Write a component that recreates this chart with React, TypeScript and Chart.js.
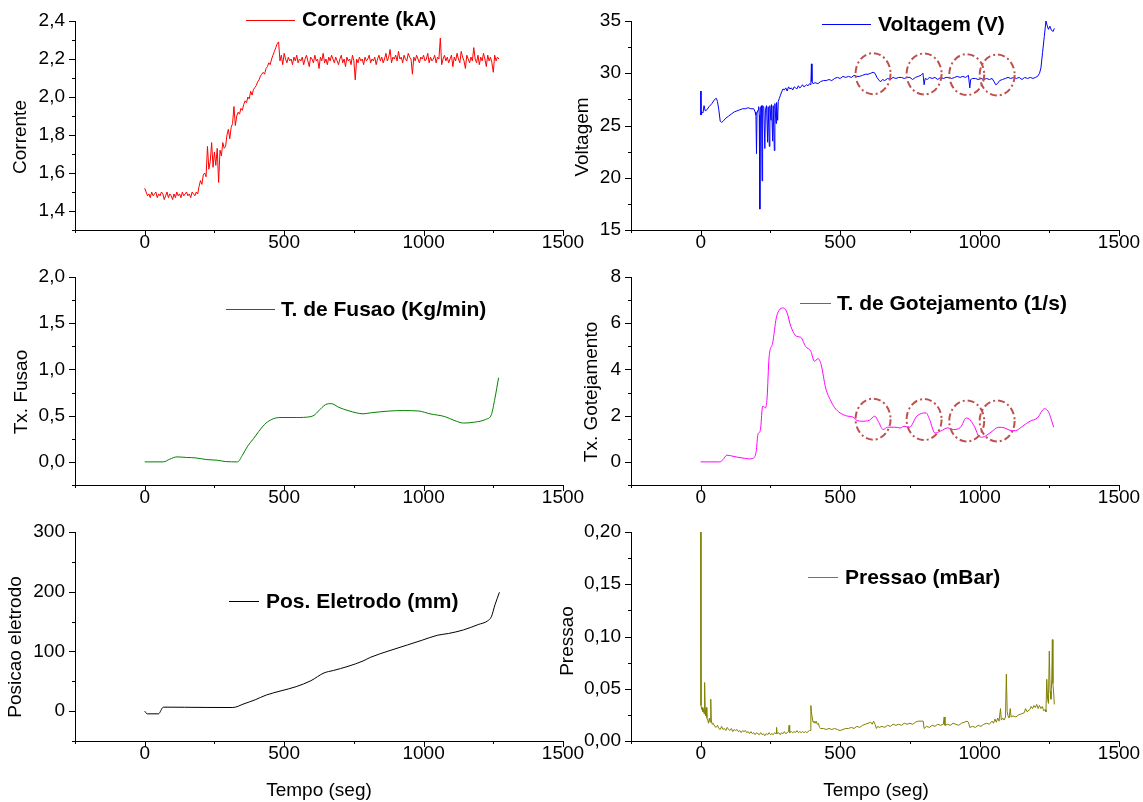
import React, { useEffect, useRef } from 'react';
import { Chart, registerables } from 'chart.js';

Chart.register(...registerables);

const W = 1143;
const H = 802;
const FONT = '"Liberation Sans", Arial, Helvetica, sans-serif';

// ---------- DATA ----------
const tempoTicks = [-250, 1500];

// Corrente (kA), sampled every 5 s from t = 0
const correnteValores = [
  1.52, 1.50, 1.48, 1.49, 1.47, 1.50, 1.48, 1.49, 1.50, 1.47, 1.49, 1.48, 1.50, 1.49, 1.46, 1.48, 1.50, 1.47, 1.49, 1.48,
  1.46, 1.49, 1.47, 1.50, 1.48, 1.49, 1.47, 1.50, 1.48, 1.49, 1.50, 1.48, 1.49, 1.47, 1.50, 1.49, 1.48, 1.50,
  1.49, 1.53, 1.56, 1.54, 1.59, 1.60, 1.58, 1.74, 1.62, 1.66, 1.76, 1.63, 1.71, 1.64, 1.73, 1.55, 1.72, 1.69, 1.76, 1.73,
  1.74, 1.80, 1.83, 1.78, 1.84, 1.86, 1.95, 1.85, 1.90, 1.92, 1.91, 1.94, 1.93, 1.96, 1.98, 1.97, 2.00, 1.99, 2.03, 2.01,
  2.04, 2.05, 2.06, 2.08, 2.09, 2.11, 2.12, 2.13, 2.12, 2.15, 2.16, 2.18, 2.17, 2.20, 2.22, 2.24, 2.26, 2.28, 2.29,
  2.19, 2.22, 2.17, 2.23, 2.20, 2.18, 2.21, 2.19, 2.20, 2.17, 2.21, 2.19, 2.22, 2.18, 2.20, 2.19, 2.21, 2.17, 2.20, 2.22,
  2.19, 2.16, 2.21, 2.20, 2.18, 2.22, 2.19, 2.20, 2.15, 2.21, 2.19, 2.23, 2.18, 2.20, 2.17, 2.21, 2.19, 2.22, 2.20, 2.18,
  2.21, 2.19, 2.17, 2.20, 2.22, 2.18, 2.20, 2.16, 2.21, 2.19, 2.20, 2.17, 2.22, 2.19, 2.09, 2.20, 2.18, 2.21, 2.19, 2.20,
  2.17, 2.21, 2.19, 2.20, 2.22, 2.18, 2.20, 2.19, 2.21, 2.17, 2.20, 2.22, 2.19, 2.21, 2.18, 2.20, 2.23, 2.19, 2.21, 2.25,
  2.18, 2.21, 2.20, 2.22, 2.19, 2.24, 2.20, 2.21, 2.18, 2.22, 2.20, 2.19, 2.23, 2.21, 2.20, 2.12, 2.21, 2.19, 2.22, 2.20,
  2.18, 2.21, 2.20, 2.22, 2.19, 2.20, 2.23, 2.18, 2.21, 2.19, 2.20, 2.22, 2.18, 2.21, 2.20, 2.31, 2.17, 2.20, 2.22, 2.19,
  2.21, 2.18, 2.20, 2.22, 2.16, 2.21, 2.19, 2.23, 2.20, 2.18, 2.24, 2.21, 2.19, 2.15, 2.22, 2.20, 2.18, 2.21, 2.19, 2.26,
  2.20, 2.18, 2.22, 2.17, 2.21, 2.19, 2.23, 2.20, 2.16, 2.22, 2.19, 2.21, 2.18, 2.13, 2.22, 2.19, 2.21, 2.20,
];
const correnteTempo = correnteValores.map((_, i) => i * 5);

// Voltagem (V): [tempo, valor]
const voltagem: [number, number][] = [
  [0, 28.3], [1, 26.0], [3, 26.3], [8, 26.2], [12, 26.9], [16, 26.4], [22, 26.5], [30, 26.8], [40, 27.1], [50, 27.5],
  [56, 27.6], [60, 27.3], [65, 26.5], [70, 25.4], [75, 25.3], [80, 25.4], [90, 25.7], [100, 25.9], [110, 26.1], [120, 26.3],
  [130, 26.4], [140, 26.5], [150, 26.6], [160, 26.6], [170, 26.7], [180, 26.6], [190, 26.6], [195, 26.3], [198, 26.0], [200, 22.3],
  [202, 26.2], [206, 26.5], [208, 26.8], [210, 26.0], [212, 17.0], [214, 26.7], [218, 26.9], [220, 19.7], [222, 26.9], [226, 26.8],
  [230, 22.8], [232, 26.5], [236, 26.9], [240, 23.4], [242, 26.8], [246, 23.0], [248, 26.9], [252, 25.5], [254, 27.0], [258, 23.5],
  [260, 26.9], [264, 22.6], [266, 27.1], [270, 25.2], [272, 27.2], [276, 25.5], [278, 27.3], [282, 27.6], [286, 27.9], [290, 28.2],
  [295, 28.5], [300, 28.4], [305, 28.6], [310, 28.3], [315, 28.7], [320, 28.5], [325, 28.6], [330, 28.4], [335, 28.7], [340, 28.6],
  [345, 28.5], [350, 28.8], [355, 28.6], [360, 28.7], [365, 28.9], [370, 28.7], [375, 28.8], [380, 28.9], [385, 28.8], [390, 29.0],
  [395, 28.9], [397, 30.9], [399, 29.2], [403, 29.0], [410, 29.1], [420, 29.0], [430, 29.2], [440, 29.3], [450, 29.3], [460, 29.4],
  [470, 29.3], [480, 29.5], [490, 29.6], [500, 29.5], [510, 29.7], [520, 29.6], [530, 29.7], [540, 29.6], [550, 29.8], [560, 29.7],
  [570, 29.7], [580, 29.8], [590, 29.9], [600, 29.9], [610, 30.0], [618, 30.1], [625, 30.0], [632, 29.6], [640, 29.3], [646, 29.2],
  [652, 29.4], [660, 29.3], [670, 29.5], [680, 29.4], [690, 29.6], [700, 29.5], [710, 29.6], [720, 29.6], [730, 29.5], [740, 29.6],
  [750, 29.6], [760, 29.4], [770, 29.6], [780, 29.7], [790, 29.8], [797, 30.0], [801, 28.9], [805, 29.5], [812, 29.4], [820, 29.6],
  [830, 29.5], [840, 29.6], [850, 29.4], [860, 29.6], [870, 29.5], [880, 29.6], [890, 29.6], [900, 29.5], [910, 29.6], [920, 29.7],
  [930, 29.6], [940, 29.7], [950, 29.6], [960, 29.8], [965, 28.6], [968, 29.4], [975, 29.5], [985, 29.5], [995, 29.4], [1005, 29.5],
  [1015, 29.4], [1025, 29.5], [1035, 29.4], [1045, 29.5], [1052, 29.2], [1058, 28.9], [1064, 29.0], [1072, 29.3], [1082, 29.4], [1092, 29.5],
  [1102, 29.6], [1112, 29.5], [1122, 29.6], [1132, 29.5], [1142, 29.6], [1152, 29.4], [1162, 29.6], [1172, 29.5], [1182, 29.6], [1192, 29.5],
  [1200, 29.6], [1208, 29.7], [1215, 30.0], [1220, 30.5], [1226, 32.0], [1232, 33.5], [1238, 35.0], [1242, 34.6], [1247, 34.2], [1252, 34.5],
  [1258, 34.1], [1264, 34.0], [1268, 34.3], [1270, 34.3],
];

// Taxa de fusao (Kg/min)
const fusao: [number, number][] = [
  [0, 0], [67, 0], [90, 0.03], [116, 0.054], [150, 0.048], [183, 0.043], [223, 0.025], [260, 0.018], [289, 0.004], [333, 0.0],
  [350, 0.07], [369, 0.17], [390, 0.25], [409, 0.33], [435, 0.42], [456, 0.46], [470, 0.475], [489, 0.48], [543, 0.48], [596, 0.49],
  [610, 0.51], [623, 0.55], [649, 0.62], [669, 0.63], [696, 0.59], [729, 0.555], [760, 0.53], [783, 0.52], [809, 0.53], [876, 0.55],
  [929, 0.555], [983, 0.55], [1023, 0.52], [1076, 0.49], [1109, 0.45], [1143, 0.42], [1183, 0.43], [1223, 0.46], [1243, 0.51], [1256, 0.69],
  [1269, 0.91],
];

// Taxa de gotejamento (1/s)
const gotejamento: [number, number][] = [
  [0, 0], [68, 0], [80, 0.1], [94, 0.29], [110, 0.26], [133, 0.2], [160, 0.15], [173, 0.13], [186, 0.15], [199, 0.46],
  [205, 1.18], [212, 1.3], [215, 1.47], [222, 2.4], [228, 2.38], [232, 2.33], [238, 2.77], [245, 4.5], [258, 5.15], [271, 6.23],
  [280, 6.54], [297, 6.66], [310, 6.44], [323, 5.87], [343, 5.44], [359, 5.39], [376, 5.0], [395, 4.78], [408, 4.35], [421, 4.47],
  [432, 4.2], [448, 3.2], [467, 2.63], [480, 2.35], [500, 2.12], [526, 1.98], [546, 1.94], [559, 1.8], [579, 1.76], [605, 1.8],
  [624, 1.98], [637, 1.75], [654, 1.4], [670, 1.5], [696, 1.5], [716, 1.47], [729, 1.54], [749, 1.5], [775, 1.98], [808, 2.12],
  [821, 1.83], [840, 1.25], [860, 1.33], [886, 1.47], [906, 1.4], [932, 1.5], [952, 1.9], [965, 1.83], [984, 1.47], [997, 1.11],
  [1010, 1.07], [1037, 1.25], [1069, 1.5], [1089, 1.47], [1115, 1.35], [1128, 1.35], [1154, 1.54], [1181, 1.76], [1207, 1.9], [1233, 2.3],
  [1246, 2.19], [1266, 1.5],
];

// Posicao eletrodo (mm)
const posicao: [number, number][] = [
  [0, 0], [9, -4.5], [49, -4.5], [67, 6.7], [143, 6.5], [220, 6.2], [316, 6.1], [356, 12.3], [396, 19], [436, 27],
  [489, 34], [543, 41], [596, 51], [643, 64], [676, 68], [729, 75], [783, 84], [809, 90], [876, 101], [943, 111],
  [996, 119], [1049, 127], [1089, 130], [1143, 136], [1196, 145], [1229, 151], [1243, 158], [1256, 178], [1272, 199],
];

// Pressao (mBar)
const pressao: [number, number][] = [
  [0, 0.20], [1, 0.034], [4, 0.03], [6, 0.032], [8, 0.028], [10, 0.03], [12, 0.026], [14, 0.056], [16, 0.03], [18, 0.024],
  [20, 0.032], [22, 0.022], [25, 0.02], [28, 0.017], [31, 0.022], [34, 0.018], [36, 0.04], [38, 0.02], [41, 0.016], [45, 0.017],
  [50, 0.014], [55, 0.013], [60, 0.015], [65, 0.012], [70, 0.011], [75, 0.014], [80, 0.011], [85, 0.012], [90, 0.010], [95, 0.013],
  [100, 0.011], [105, 0.010], [110, 0.012], [115, 0.009], [120, 0.011], [125, 0.010], [130, 0.011], [135, 0.009], [140, 0.010], [145, 0.008],
  [150, 0.010], [155, 0.009], [160, 0.010], [165, 0.008], [170, 0.009], [175, 0.007], [180, 0.009], [185, 0.007], [190, 0.008], [195, 0.006],
  [200, 0.008], [205, 0.007], [210, 0.006], [215, 0.008], [220, 0.006], [225, 0.007], [230, 0.005], [235, 0.007], [240, 0.006], [245, 0.008],
  [250, 0.006], [255, 0.007], [260, 0.006], [265, 0.008], [270, 0.007], [272, 0.013], [274, 0.007], [280, 0.008], [285, 0.006], [290, 0.008],
  [295, 0.007], [300, 0.009], [305, 0.007], [310, 0.008], [315, 0.009], [317, 0.015], [319, 0.008], [325, 0.009], [330, 0.008], [335, 0.009],
  [340, 0.008], [345, 0.010], [350, 0.008], [355, 0.009], [360, 0.008], [365, 0.009], [370, 0.008], [375, 0.009], [380, 0.008], [385, 0.009],
  [390, 0.010], [393, 0.010], [395, 0.034], [397, 0.028], [400, 0.022], [403, 0.018], [406, 0.019], [410, 0.017], [414, 0.019], [418, 0.016],
  [422, 0.017], [426, 0.013], [430, 0.012], [440, 0.012], [450, 0.011], [460, 0.012], [470, 0.011], [480, 0.012], [490, 0.011], [500, 0.010],
  [510, 0.011], [520, 0.012], [530, 0.012], [540, 0.013], [550, 0.012], [560, 0.014], [570, 0.013], [580, 0.015], [590, 0.016], [600, 0.017],
  [610, 0.018], [615, 0.016], [620, 0.019], [625, 0.016], [630, 0.012], [635, 0.014], [640, 0.013], [650, 0.014], [660, 0.013], [670, 0.015],
  [680, 0.014], [690, 0.016], [700, 0.015], [710, 0.016], [720, 0.015], [730, 0.017], [740, 0.016], [750, 0.017], [760, 0.016], [770, 0.018],
  [780, 0.019], [790, 0.019], [798, 0.019], [801, 0.012], [810, 0.014], [820, 0.013], [830, 0.015], [840, 0.014], [850, 0.016], [860, 0.015],
  [870, 0.016], [873, 0.023], [876, 0.015], [885, 0.016], [895, 0.015], [905, 0.017], [915, 0.016], [925, 0.015], [935, 0.017], [945, 0.018],
  [955, 0.019], [960, 0.018], [965, 0.013], [975, 0.014], [985, 0.013], [995, 0.015], [1005, 0.014], [1015, 0.016], [1025, 0.017], [1035, 0.016],
  [1045, 0.019], [1050, 0.017], [1055, 0.021], [1060, 0.018], [1065, 0.022], [1070, 0.019], [1075, 0.031], [1078, 0.020], [1083, 0.022], [1088, 0.020],
  [1093, 0.023], [1096, 0.064], [1099, 0.028], [1102, 0.024], [1106, 0.022], [1110, 0.031], [1113, 0.023], [1120, 0.024], [1130, 0.023], [1140, 0.025],
  [1150, 0.026], [1160, 0.027], [1165, 0.031], [1170, 0.028], [1180, 0.030], [1185, 0.033], [1190, 0.031], [1195, 0.034], [1200, 0.032], [1205, 0.035],
  [1210, 0.031], [1215, 0.034], [1220, 0.031], [1225, 0.033], [1230, 0.029], [1235, 0.030], [1238, 0.028], [1241, 0.059], [1244, 0.040], [1247, 0.036],
  [1250, 0.086], [1253, 0.048], [1256, 0.040], [1259, 0.060], [1261, 0.097], [1263, 0.055], [1266, 0.045], [1268, 0.035],
];

// Dash-dot circles (centres in data units)
const circulosVoltagem: [number, number][] = [[618, 29.96], [801, 29.93], [954, 29.87], [1063, 29.83]];
const circulosGotejamento: [number, number][] = [[618, 1.85], [801, 1.83], [954, 1.77], [1063, 1.77]];

// ---------- LAYOUT / STYLE ----------
type Panel = {
  points: { x: number; y: number }[];
  color: string;
  smooth: boolean;
  plot: { l: number; r: number; t: number; b: number };
  y: { min: number; max: number; step: number; major: (v: number) => boolean; fmt: (v: number) => string };
  yTitle: { text: string; x: number; y: number };
  xTitle?: { text: string; x: number; y: number };
  legend: { text: string; x1: number; x2: number; y: number; tx: number };
  circles?: [number, number][];
};

const toPts = (arr: [number, number][]) => arr.map(([x, y]) => ({ x, y }));
const comma = (d: number) => (v: number) => v.toFixed(d).replace('.', ',');
const L = { l: 75, r: 563 };
const R = { l: 631, r: 1119 };
const ROW1 = { t: 21, b: 230 };
const ROW2 = { t: 277, b: 485 };
const ROW3 = { t: 532, b: 741 };

const panels: Panel[] = [
  {
    points: correnteTempo.map((t, i) => ({ x: t, y: correnteValores[i] })),
    color: '#ff0000', smooth: false,
    plot: { ...L, ...ROW1 },
    y: { min: 1.3, max: 2.4, step: 0.1, major: (v) => Math.abs(Math.round(v * 10)) % 2 === 0, fmt: comma(1) },
    yTitle: { text: 'Corrente', x: 21, y: 137 },
    legend: { text: 'Corrente (kA)', x1: 246, x2: 295, y: 19.5, tx: 302 },
  },
  {
    points: toPts(voltagem),
    color: '#0000ff', smooth: false,
    plot: { ...R, ...ROW1 },
    y: { min: 15, max: 35, step: 2.5, major: (v) => Math.abs(v % 5) < 1e-6, fmt: (v) => String(v) },
    yTitle: { text: 'Voltagem', x: 583, y: 137 },
    legend: { text: 'Voltagem (V)', x1: 822, x2: 871, y: 24, tx: 878 },
    circles: circulosVoltagem,
  },
  {
    points: toPts(fusao),
    color: '#008000', smooth: true,
    plot: { ...L, ...ROW2 },
    y: { min: -0.25, max: 2.0, step: 0.25, major: (v) => Math.abs(Math.round(v * 4)) % 2 === 0, fmt: comma(1) },
    yTitle: { text: 'Tx. Fusao', x: 22, y: 392 },
    legend: { text: 'T. de Fusao (Kg/min)', x1: 226, x2: 275, y: 309, tx: 281 },
  },
  {
    points: toPts(gotejamento),
    color: '#ff00ff', smooth: true,
    plot: { ...R, ...ROW2 },
    y: { min: -1, max: 8, step: 1, major: (v) => Math.abs(Math.round(v)) % 2 === 0, fmt: (v) => String(v) },
    yTitle: { text: 'Tx. Gotejamento', x: 592, y: 392 },
    legend: { text: 'T. de Gotejamento (1/s)', x1: 800, x2: 831, y: 303, tx: 837 },
    circles: circulosGotejamento,
  },
  {
    points: toPts(posicao),
    color: '#000000', smooth: true,
    plot: { ...L, ...ROW3 },
    y: { min: -50, max: 300, step: 50, major: (v) => Math.abs(Math.round(v)) % 100 === 0, fmt: (v) => String(v) },
    yTitle: { text: 'Posicao eletrodo', x: 16, y: 647 },
    xTitle: { text: 'Tempo (seg)', x: 319, y: 791 },
    legend: { text: 'Pos. Eletrodo (mm)', x1: 229, x2: 259, y: 601, tx: 266 },
  },
  {
    points: toPts(pressao),
    color: '#808000', smooth: false,
    plot: { ...R, ...ROW3 },
    y: { min: 0, max: 0.2, step: 0.025, major: (v) => Math.abs(Math.round(v * 40)) % 2 === 0, fmt: comma(2) },
    yTitle: { text: 'Pressao', x: 568, y: 641 },
    xTitle: { text: 'Tempo (seg)', x: 876, y: 791 },
    legend: { text: 'Pressao (mBar)', x1: 808, x2: 838, y: 577, tx: 845 },
  },
];

const Y_AXIS_W = 60;
const X_AXIS_H = 40;

function makeDecor(p: Panel) {
  return {
    id: 'decor',
    afterDraw(chart: any) {
      const ctx: CanvasRenderingContext2D = chart.ctx;
      const xs = chart.scales.x;
      const ys = chart.scales.y;
      const a = chart.chartArea;
      ctx.save();
      ctx.strokeStyle = '#000';
      ctx.lineWidth = 1;
      for (const t of xs.ticks) {
        const px = Math.round(xs.getPixelForValue(t.value)) + 0.5;
        const major = Math.abs(t.value % 500) < 1e-6;
        ctx.beginPath();
        ctx.moveTo(px, Math.round(a.bottom));
        ctx.lineTo(px, Math.round(a.bottom) + (major ? 6 : 3));
        ctx.stroke();
      }
      for (const t of ys.ticks) {
        const py = Math.round(ys.getPixelForValue(t.value)) + 0.5;
        const major = p.y.major(t.value);
        ctx.beginPath();
        ctx.moveTo(Math.round(a.left) - (major ? 6 : 3), py);
        ctx.lineTo(Math.round(a.left), py);
        ctx.stroke();
      }
      // circles
      if (p.circles) {
        ctx.strokeStyle = '#c0504d';
        ctx.lineWidth = 2;
        ctx.setLineDash([7, 3, 2, 3]);
        for (const [cx, cy] of p.circles) {
          ctx.beginPath();
          ctx.ellipse(xs.getPixelForValue(cx), ys.getPixelForValue(cy), 17.5, 20.5, 0, 0, Math.PI * 2);
          ctx.stroke();
        }
        ctx.setLineDash([]);
      }
      // legend
      ctx.strokeStyle = p.color;
      ctx.lineWidth = 1;
      ctx.beginPath();
      ctx.moveTo(p.legend.x1, Math.round(p.legend.y) + 0.5);
      ctx.lineTo(p.legend.x2, Math.round(p.legend.y) + 0.5);
      ctx.stroke();
      ctx.fillStyle = '#000';
      ctx.font = `bold 21px ${FONT}`;
      ctx.textAlign = 'left';
      ctx.textBaseline = 'middle';
      ctx.fillText(p.legend.text, p.legend.tx, p.legend.y + 1);
      // axis titles
      ctx.font = `19px ${FONT}`;
      ctx.textAlign = 'center';
      ctx.save();
      ctx.translate(p.yTitle.x, p.yTitle.y);
      ctx.rotate(-Math.PI / 2);
      ctx.fillText(p.yTitle.text, 0, 0);
      ctx.restore();
      if (p.xTitle) ctx.fillText(p.xTitle.text, p.xTitle.x, p.xTitle.y);
      ctx.restore();
    },
  };
}

function buildChart(canvas: HTMLCanvasElement, p: Panel) {
  return new Chart(canvas, {
    type: 'line',
    data: {
      datasets: [
        {
          data: p.points,
          borderColor: p.color,
          borderWidth: 1,
          pointRadius: 0,
          fill: false,
          cubicInterpolationMode: p.smooth ? 'monotone' : 'default',
          tension: 0,
        },
      ],
    },
    options: {
      animation: false,
      responsive: false,
      devicePixelRatio: 1,
      events: [],
      layout: {
        padding: {
          left: p.plot.l - Y_AXIS_W,
          right: W - p.plot.r,
          top: p.plot.t,
          bottom: H - p.plot.b - X_AXIS_H,
        },
      },
      plugins: { legend: { display: false }, tooltip: { enabled: false }, title: { display: false } },
      scales: {
        x: {
          type: 'linear',
          min: tempoTicks[0],
          max: tempoTicks[1],
          afterFit: (s: any) => { s.height = X_AXIS_H; },
          grid: { display: true, drawOnChartArea: false, drawTicks: true, tickLength: 6, tickColor: 'rgba(0,0,0,0)' },
          border: { display: true, color: '#000', width: 1 },
          ticks: {
            stepSize: 250,
            autoSkip: false,
            maxRotation: 0,
            padding: 0,
            color: '#000',
            font: { family: FONT, size: 19, lineHeight: 0.74 },
            callback: (v: any) => (Math.abs(Number(v) % 500) < 1e-6 ? String(v) : ''),
          },
        },
        y: {
          type: 'linear',
          min: p.y.min,
          max: p.y.max,
          afterFit: (s: any) => { s.width = Y_AXIS_W; },
          grid: { display: true, drawOnChartArea: false, drawTicks: true, tickLength: 6, tickColor: 'rgba(0,0,0,0)' },
          border: { display: true, color: '#000', width: 1 },
          ticks: {
            stepSize: p.y.step,
            autoSkip: false,
            padding: 4,
            color: '#000',
            font: { family: FONT, size: 19 },
            callback: (v: any) => (p.y.major(Number(v)) ? p.y.fmt(Number(v)) : ''),
          },
        },
      },
    },
    plugins: [makeDecor(p)],
  } as any);
}

function App() {
  const refs = useRef<(HTMLCanvasElement | null)[]>([]);
  useEffect(() => {
    document.body.style.margin = '0';
    const charts = panels.map((p, i) => buildChart(refs.current[i] as HTMLCanvasElement, p));
    return () => charts.forEach((c) => c.destroy());
  }, []);
  return (
    <div style={{ position: 'relative', width: W, height: H, background: '#fff' }}>
      {panels.map((_, i) => (
        <canvas
          key={i}
          ref={(el) => { refs.current[i] = el; }}
          width={W}
          height={H}
          style={{ position: 'absolute', left: 0, top: 0, width: W, height: H }}
        />
      ))}
    </div>
  );
}

export default App;
